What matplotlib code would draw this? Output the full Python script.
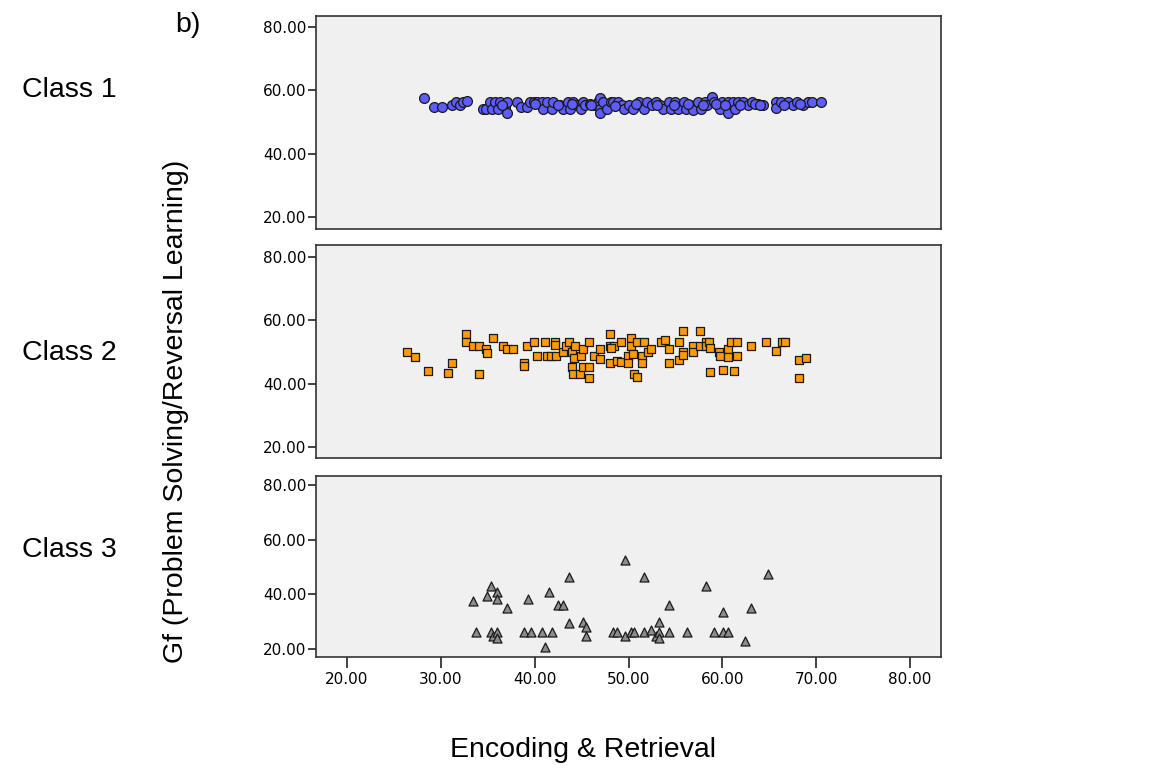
import numpy as np
import matplotlib
matplotlib.use('Agg')
import matplotlib.pyplot as plt

# Class 1 (circles)
c1_x = [28.2, 29.3, 30.1, 31.2, 31.6, 32.0, 32.4, 32.8, 34.5, 34.8, 35.2, 35.5, 35.8, 36.1,
        36.3, 36.8, 37.1, 37.1, 38.1, 38.5, 39.2, 39.5, 39.9, 40.3, 40.8, 40.9, 41.3, 41.9,
        42.0, 42.7, 43.0, 43.5, 43.8, 44.1, 44.5, 44.9, 45.2, 45.4, 45.9, 46.2, 46.7, 47.0,
        47.0, 47.0, 47.3, 47.7, 48.1, 48.4, 48.9, 49.3, 49.5, 50.0, 50.5, 51.1, 51.6, 52.0,
        52.5, 52.9, 53.4, 53.7, 54.3, 54.5, 55.0, 55.3, 55.9, 56.1, 56.6, 56.9, 57.4, 57.7,
        58.2, 58.4, 58.9, 59.1, 59.5, 59.8, 60.0, 60.6, 60.6, 61.1, 61.4, 61.7, 62.2, 62.7,
        63.2, 63.8, 64.3, 65.7, 65.7, 66.2, 67.0, 67.5, 68.0, 68.6, 69.1, 69.6, 70.5,
        36.5, 40.0, 42.5, 44.0, 46.0, 48.6, 50.8, 53.0, 54.8, 56.3, 57.9, 59.3, 60.3, 61.9,
        63.5, 64.0, 66.6, 68.3]
c1_y = [57.5, 54.6, 54.6, 55.3, 56.2, 55.3, 56.2, 56.5, 54.0, 54.0, 56.2, 54.0, 56.2, 54.0,
        56.2, 54.7, 56.2, 52.7, 56.2, 54.7, 54.7, 56.2, 56.2, 56.2, 56.2, 54.0, 56.2, 54.0,
        56.2, 55.3, 54.0, 56.2, 54.0, 56.2, 55.3, 54.0, 56.2, 55.3, 55.6, 55.3, 56.2, 57.5,
        54.0, 53.0, 56.2, 54.0, 56.2, 56.2, 56.2, 55.3, 54.0, 55.3, 54.0, 56.2, 54.0, 56.2,
        55.3, 56.2, 55.3, 54.0, 56.2, 54.0, 56.2, 54.0, 56.2, 54.0, 55.3, 53.7, 56.2, 54.0,
        56.2, 55.3, 57.8, 56.2, 55.3, 54.0, 56.2, 56.2, 53.0, 56.2, 54.0, 56.2, 56.2, 55.3,
        56.2, 55.6, 55.3, 56.2, 54.5, 56.2, 56.2, 55.3, 56.2, 55.3, 56.2, 56.2, 56.2,
        55.5, 55.6, 55.4, 55.6, 55.5, 55.2, 55.7, 55.5, 55.4, 55.6, 55.3, 55.8, 55.5, 55.4,
        55.6, 55.5, 55.4, 55.6]

# Class 2 (squares)
c2_x = [26.4, 27.2, 28.6, 30.8, 31.2, 32.7, 32.7, 33.4, 34.1, 34.8, 34.9, 34.1, 35.6, 36.6,
        37.1, 37.7, 38.9, 38.9, 39.2, 39.9, 40.3, 41.1, 41.3, 41.7, 42.2, 42.2, 42.3, 43.0,
        43.3, 43.7, 44.0, 44.3, 44.0, 44.2, 44.1, 44.8, 44.9, 45.2, 45.2, 45.8, 45.8, 45.8,
        46.3, 47.0, 47.0, 48.0, 48.0, 48.0, 48.5, 48.1, 48.8, 49.2, 49.2, 49.9, 49.9, 50.3,
        50.3, 50.5, 50.6, 50.9, 50.9, 51.4, 51.4, 51.7, 52.1, 52.4, 53.5, 53.9, 54.3, 54.3,
        55.4, 55.4, 55.8, 55.8, 55.8, 56.9, 56.9, 57.6, 57.6, 58.3, 58.3, 58.6, 58.7, 58.7,
        59.6, 59.8, 60.1, 60.6, 60.6, 60.9, 61.2, 61.6, 61.6, 63.1, 64.6, 65.7, 66.4, 66.7,
        68.2, 68.2, 68.9]
c2_y = [50.0, 48.4, 44.1, 43.4, 46.6, 55.6, 53.1, 51.9, 51.9, 50.9, 49.7, 43.1, 54.4, 51.9,
        50.9, 50.9, 46.6, 45.6, 51.9, 53.1, 48.8, 53.1, 48.8, 48.8, 53.1, 52.2, 48.8, 50.0,
        51.9, 53.1, 50.0, 51.9, 45.3, 48.1, 43.1, 43.1, 48.8, 50.9, 45.3, 53.1, 45.3, 41.9,
        48.8, 50.9, 47.8, 55.6, 51.9, 46.6, 51.9, 51.3, 47.2, 53.1, 46.9, 48.8, 46.6, 54.4,
        51.9, 49.4, 43.1, 42.2, 53.1, 48.8, 46.6, 53.1, 50.0, 50.9, 53.1, 53.8, 50.9, 46.6,
        53.1, 47.5, 56.6, 50.0, 49.1, 51.9, 50.0, 56.6, 51.9, 53.1, 51.9, 53.1, 51.3, 43.8,
        50.0, 48.8, 44.4, 50.9, 48.4, 53.1, 44.1, 53.1, 48.8, 51.9, 53.1, 50.3, 53.1, 53.1,
        47.5, 41.9, 48.1]

# Class 3 (triangles)
c3_x = [33.4, 33.8, 35.3, 34.9, 36.0, 36.0, 35.3, 35.6, 36.0, 36.0, 37.1, 38.9, 39.3, 39.6,
        40.8, 41.1, 41.5, 41.9, 42.5, 43.0, 43.7, 43.7, 45.2, 45.5, 45.5, 48.4, 48.8, 49.6,
        49.6, 50.3, 50.6, 51.7, 51.7, 52.4, 52.9, 53.2, 53.2, 53.2, 54.3, 54.3, 56.2, 58.3,
        59.1, 60.1, 60.1, 60.6, 62.4, 63.1, 64.9]
c3_y = [37.5, 26.2, 42.9, 39.3, 40.7, 38.2, 26.2, 24.9, 26.2, 24.0, 34.9, 26.2, 38.2, 26.2,
        26.2, 20.7, 40.7, 26.2, 36.0, 36.0, 46.2, 29.5, 29.8, 28.0, 24.7, 26.2, 26.2, 52.4,
        24.9, 26.2, 26.2, 46.2, 26.2, 26.9, 24.9, 29.8, 26.2, 24.0, 36.0, 26.2, 26.2, 42.9,
        26.2, 33.5, 26.2, 26.2, 22.9, 34.9, 47.3]

y_ticks = [20, 40, 60, 80]
x_ticks = [20, 30, 40, 50, 60, 70, 80]

W, H = 1154, 769
fig = plt.figure(figsize=(W / 100, H / 100), dpi=100)

# panel boxes in pixels: (top, bottom)
boxes = [(16, 229), (245, 458), (476, 657)]
left_px, right_px = 316, 941
ylims = [(16.2, 83.5), (16.5, 83.8), (17.1, 83.3)]

series = [
    (c1_x, c1_y, 'o', '#5c5cff', 50),
    (c2_x, c2_y, 's', '#ff9a0a', 28),
    (c3_x, c3_y, '^', '#8c8c8c', 42),
]

axes = []
for i, (top, bot) in enumerate(boxes):
    ax = fig.add_axes([left_px / W, (H - bot) / H, (right_px - left_px) / W, (bot - top) / H])
    ax.set_facecolor('#f0f0f0')
    x, y, m, c, s = series[i]
    ax.scatter(x, y, marker=m, s=s, c=c, edgecolors='#1a1a1a', linewidths=0.9, zorder=3)
    ax.set_xlim(16.7, 83.3)
    ax.set_ylim(*ylims[i])
    ax.set_yticks(y_ticks)
    ax.set_yticklabels(['%.2f' % v for v in y_ticks], fontsize=11, family='DejaVu Sans')
    ax.tick_params(axis='y', direction='out', length=6, width=1.2, pad=1, color='#222222')
    for sp in ax.spines.values():
        sp.set_color('#333333')
        sp.set_linewidth(1.2)
    if i < 2:
        ax.set_xticks([])
    else:
        ax.set_xticks(x_ticks)
        ax.set_xticklabels(['%.2f' % v for v in x_ticks], fontsize=11, family='DejaVu Sans')
        ax.tick_params(axis='x', direction='out', length=8, width=1.2, pad=3, color='#222222')
    axes.append(ax)

lab_font = dict(family='Liberation Sans', fontsize=20.5)
fig.text(175 / W, 1 - 25 / H, 'b)', ha='left', va='center', **lab_font)
fig.text(22 / W, 1 - 90 / H, 'Class 1', ha='left', va='center', **lab_font)
fig.text(22 / W, 1 - 353 / H, 'Class 2', ha='left', va='center', **lab_font)
fig.text(22 / W, 1 - 550 / H, 'Class 3', ha='left', va='center', **lab_font)
fig.text(176 / W, 1 - 411 / H, 'Gf (Problem Solving/Reversal Learning)', rotation=90,
         ha='center', va='center', **lab_font)
fig.text(583 / W, 1 - 750 / H, 'Encoding & Retrieval', ha='center', va='center', **lab_font)

fig.savefig('out.png', dpi=100)
